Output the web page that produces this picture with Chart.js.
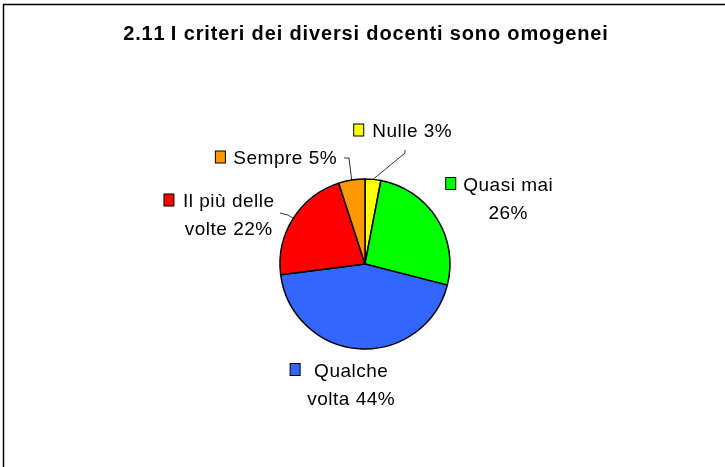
<!DOCTYPE html>
<html><head><meta charset="utf-8">
<script src="https://cdn.jsdelivr.net/npm/chart.js@4.4.1/dist/chart.umd.min.js"></script>
<style>html,body{margin:0;padding:0;background:#fff;overflow:hidden}canvas{display:block}</style>
</head><body>
<canvas id="c" width="725" height="467"></canvas>
<script>
const chartTitle = "2.11 I criteri dei diversi docenti sono omogenei";
const categories = ["Nulle", "Quasi mai", "Qualche volta", "Il più delle volte", "Sempre"];
const values = [3, 26, 44, 22, 5];
const colors = ["#FFFF00", "#00FF00", "#3366FF", "#FF0000", "#FF9900"];

// label placement (layout only)
const labelLayout = [
  {cx: 412, cy: 130, wrap: 200, gap: 8.5, leader: [[405,150],[405,153]]},
  {cx: 508, cy: 183.5, wrap: 105, gap: 7.5, leader: null},
  {cx: 351, cy: 369.5, wrap: 105, gap: 14, leader: null},
  {cx: 228.5, cy: 200, wrap: 105, gap: 9, leader: [[280,213],[288,215]]},
  {cx: 285, cy: 157, wrap: 200, gap: 8, leader: [[344,158],[349,158]]}
];

const FONT = '"Liberation Sans", Arial, sans-serif';

function wrapText(ctx, text, maxW) {
  const words = text.split(' ');
  const lines = [];
  let cur = '';
  for (const w of words) {
    const t = cur ? cur + ' ' + w : w;
    if (cur && ctx.measureText(t).width > maxW) { lines.push(cur); cur = w; }
    else cur = t;
  }
  if (cur) lines.push(cur);
  return lines;
}

function spacedText(ctx, s, cx, y, sp) {
  const chars = [...s];
  const base = ctx.measureText(s).width;
  const total = base + sp * (chars.length - 1);
  const x = cx - total / 2;
  const prevAlign = ctx.textAlign;
  ctx.textAlign = 'left';
  let acc = '';
  for (let i = 0; i < chars.length; i++) {
    const off = ctx.measureText(acc).width + sp * i;
    ctx.fillText(chars[i], x + off, y);
    acc += chars[i];
  }
  ctx.textAlign = prevAlign;
  return total;
}

const decor = {
  id: 'decor',
  beforeDraw(chart) {
    const ctx = chart.ctx;
    ctx.save();
    ctx.fillStyle = '#fff';
    ctx.fillRect(0, 0, chart.width, chart.height);
    ctx.strokeStyle = '#000';
    ctx.lineWidth = 1.5;
    ctx.beginPath();
    ctx.moveTo(725, 4.5); ctx.lineTo(3.5, 4.5); ctx.lineTo(3.5, 467);
    ctx.stroke();
    ctx.restore();
  },
  afterDatasetsDraw(chart) {
    const ctx = chart.ctx;
    const meta = chart.getDatasetMeta(0);
    ctx.save();
    ctx.fillStyle = '#000';
    ctx.textBaseline = 'alphabetic';
    ctx.font = 'bold 20px ' + FONT;
    spacedText(ctx, chartTitle, 365.5, 39.5, 0.85);
    ctx.font = '19px ' + FONT;
    const SP = 0.5;
    values.forEach((v, i) => {
      const L = labelLayout[i];
      const arc = meta.data[i];
      const text = categories[i] + ' ' + v + '%';
      const lines = wrapText(ctx, text, L.wrap);
      ctx.fillStyle = '#000';
      let w0 = 0;
      lines.forEach((ln, k) => {
        const w = spacedText(ctx, ln, L.cx, L.cy + 7 + k * 28, SP);
        if (k === 0) w0 = w;
      });
      const sqR = L.cx - w0 / 2 - L.gap;
      ctx.fillStyle = colors[i];
      ctx.fillRect(sqR - 10, L.cy - 6, 10, 12);
      ctx.strokeStyle = '#000';
      ctx.lineWidth = 1;
      ctx.strokeRect(sqR - 10, L.cy - 6, 10, 12);
      if (L.leader) {
        const p = arc.getProps(['x','y','startAngle','endAngle','outerRadius'], true);
        const mid = (p.startAngle + p.endAngle) / 2;
        const ex = p.x + Math.cos(mid) * p.outerRadius;
        const ey = p.y + Math.sin(mid) * p.outerRadius;
        ctx.strokeStyle = '#000';
        ctx.lineWidth = 0.8;
        ctx.beginPath();
        ctx.moveTo(L.leader[0][0], L.leader[0][1]);
        ctx.lineTo(L.leader[1][0], L.leader[1][1]);
        ctx.lineTo(ex, ey);
        ctx.stroke();
      }
    });
    ctx.restore();
  }
};

new Chart(document.getElementById('c'), {
  type: 'pie',
  data: {
    labels: categories,
    datasets: [{
      data: values,
      backgroundColor: colors,
      borderColor: '#000',
      borderWidth: 1.5
    }]
  },
  options: {
    responsive: false,
    devicePixelRatio: 1,
    animation: false,
    radius: 85,
    rotation: 0,
    layout: {padding: {left: 100, right: 95, top: 100, bottom: 39}},
    plugins: {legend: {display: false}, tooltip: {enabled: false}, title: {display: false}}
  },
  plugins: [decor]
});
</script>
</body></html>
